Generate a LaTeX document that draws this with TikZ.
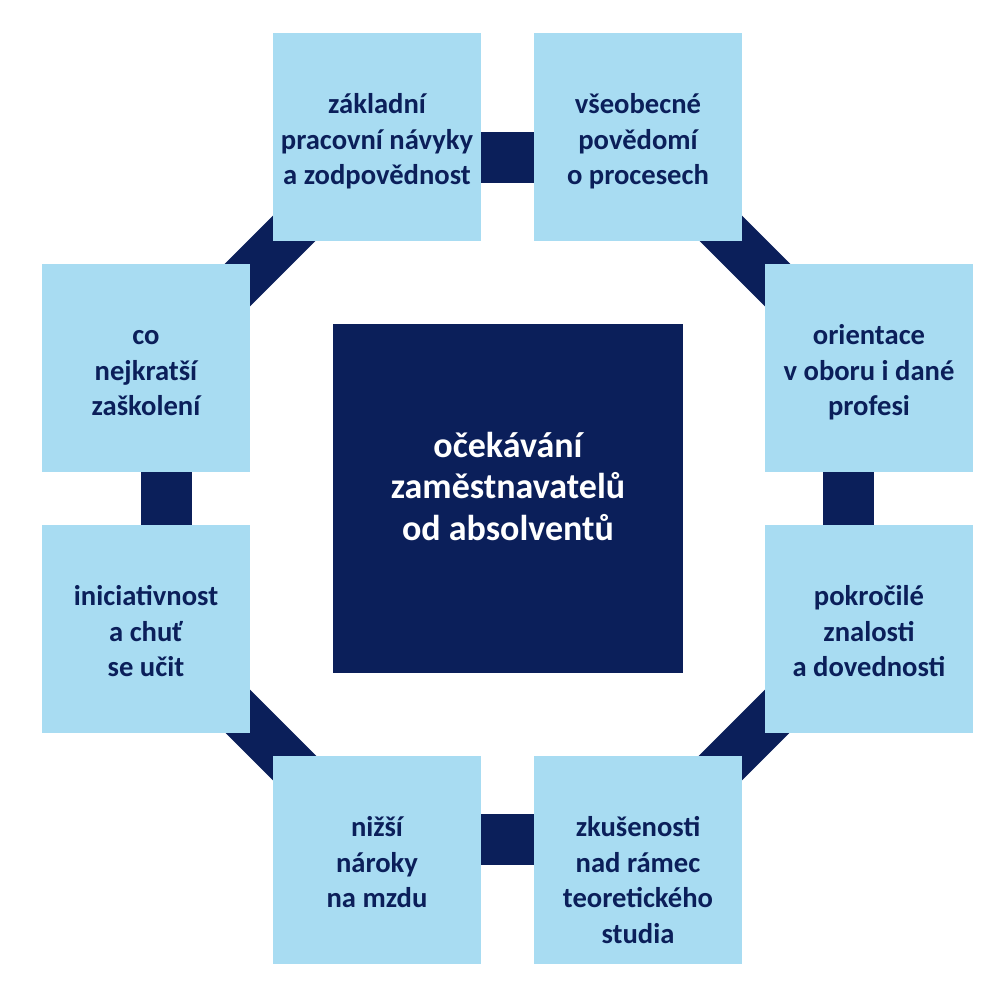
\documentclass[tikz,border=0pt]{standalone}
\usepackage{fontspec}
\setmainfont{Carlito}
\usetikzlibrary{calc,backgrounds}
\definecolor{lightbox}{HTML}{A8DCF2}
\definecolor{navy}{HTML}{0B1F5A}
\tikzset{
  item/.style={fill=lightbox, minimum size=208pt, inner sep=0pt, draw=none},
  itemtext/.style={anchor=north, align=center, text=navy, inner sep=0pt,
    font=\fontsize{28.6}{35.5}\selectfont\bfseries},
  hub/.style={fill=navy, minimum width=350pt, minimum height=349pt, inner sep=0pt},
  hubtext/.style={anchor=north, align=center, text=white, inner sep=0pt,
    font=\fontsize{36}{41.5}\selectfont\bfseries},
  link/.style={draw=navy, line width=51pt},
  band/.style={draw=navy, line width=48pt},
}
\newcommand\itemstrut{\rule{0pt}{23pt}}
\newcommand\hubstrut{\rule{0pt}{28pt}}
\begin{document}
\begin{tikzpicture}[x=1pt,y=-1pt]
\useasboundingbox (0,0) rectangle (992,980);
% hub
\node[hub] (hub) at (508,498.5) {};
\node[hubtext] (hubt) at ($(hub.center)+(0,-69.5)$) {\hubstrut očekávání\\zaměstnavatelů\\od absolventů};
% items
\node[item] (A) at (377,136.5) {};
\node[item] (B) at (638,136.5) {};
\node[item] (C) at (869,367.5) {};
\node[item] (D) at (869,628.5) {};
\node[item] (E) at (638,859.5) {};
\node[item] (F) at (377,859.5) {};
\node[item] (G) at (146,628.5) {};
\node[item] (H) at (146,367.5) {};
\node[itemtext] (tA) at ($(A.center)+(0,-46)$) {\itemstrut základní\\pracovní návyky\\a zodpovědnost};
\node[itemtext] (tB) at ($(B.center)+(0,-46)$) {\itemstrut všeobecné\\povědomí\\o procesech};
\node[itemtext] (tC) at ($(C.center)+(0,-46)$) {\itemstrut orientace\\v oboru i dané\\profesi};
\node[itemtext] (tD) at ($(D.center)+(0,-46)$) {\itemstrut pokročilé\\znalosti\\a dovednosti};
\node[itemtext] (tE) at ($(E.center)+(0,-46)$) {\itemstrut zkušenosti\\nad rámec\\teoretického\\studia};
\node[itemtext] (tF) at ($(F.center)+(0,-46)$) {\itemstrut nižší\\nároky\\na mzdu};
\node[itemtext] (tG) at ($(G.center)+(0,-46)$) {\itemstrut iniciativnost\\a chuť\\se učit};
\node[itemtext] (tH) at ($(H.center)+(0,-46)$) {\itemstrut co\\nejkratší\\zaškolení};
% connectors
\begin{scope}[on background layer]
  \fill[white] (0,0) rectangle (992,980);
  \draw[band] ($(A.center)+(4.5,4.5)$) -- ($(H.center)+(4.5,4.5)$);
  \draw[band] ($(B.center)+(-4.5,4.5)$) -- ($(C.center)+(-4.5,4.5)$);
  \draw[band] ($(D.center)+(-4.5,-4.5)$) -- ($(E.center)+(-4.5,-4.5)$);
  \draw[band] ($(G.center)+(4.5,-4.5)$) -- ($(F.center)+(4.5,-4.5)$);
  \draw[link] ($(A.center)+(0,21)$) -- ($(B.center)+(0,21)$);
  \draw[link] ($(C.center)+(-21,0)$) -- ($(D.center)+(-21,0)$);
  \draw[link] ($(E.center)+(0,-20)$) -- ($(F.center)+(0,-20)$);
  \draw[link] ($(H.center)+(20,0)$) -- ($(G.center)+(20,0)$);
\end{scope}
\end{tikzpicture}
\end{document}
